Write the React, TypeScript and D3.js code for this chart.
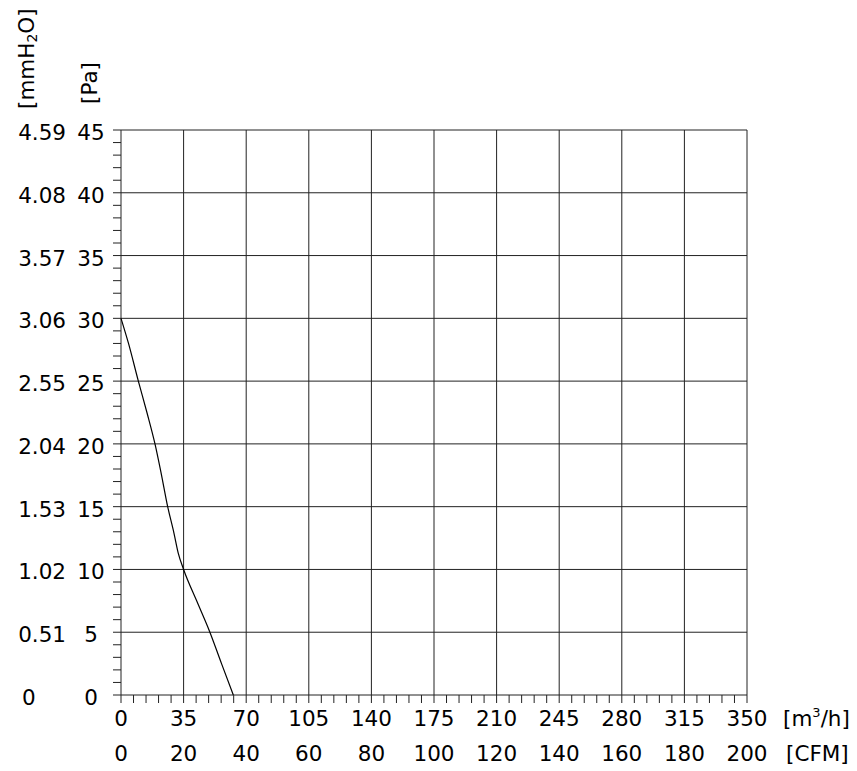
import React from "react";
import * as d3 from "d3";

const flowTicks = [0, 35, 70, 105, 140, 175, 210, 245, 280, 315, 350];
const cfmLabels = ["0", "20", "40", "60", "80", "100", "120", "140", "160", "180", "200"];
const paTicks = [0, 5, 10, 15, 20, 25, 30, 35, 40, 45];
const mmLabels = ["0", "0.51", "1.02", "1.53", "2.04", "2.55", "3.06", "3.57", "4.08", "4.59"];

const curveFlow = [0, 4.2, 9.7, 14.5, 19, 22.4, 26.1, 29.6, 32, 35, 42.3, 49.7, 56.2, 62.8];
const curvePa = [30, 28, 25, 22.5, 20, 17.7, 15, 12.9, 11.3, 10, 7.5, 5, 2.5, 0];

const W = 857;
const H = 771;
const L = 121, R = 747, T = 130, B = 695;
const FONT = "DejaVu Sans, Verdana, sans-serif";
const FS = 21.5;

export default function App() {
  const x = d3.scaleLinear().domain([0, 350]).range([L, R]);
  const y = d3.scaleLinear().domain([0, 45]).range([B, T]);
  const pts: [number, number][] = curveFlow.map((q, i) => [q, curvePa[i]]);
  const line = d3
    .line<[number, number]>()
    .x((d) => x(d[0]))
    .y((d) => y(d[1]))
    .curve(d3.curveMonotoneX);

  const minorX = d3.range(0, 351, 7);
  const minorY = d3.range(0, 46, 1);

  return (
    <svg
      width={W}
      height={H}
      style={{ position: "absolute", left: 0, top: 0, background: "#fff" }}
      fontFamily={FONT}
    >
      <rect x={0} y={0} width={W} height={H} fill="#fff" />
      {/* grid */}
      {flowTicks.map((v) => (
        <line key={"gx" + v} x1={x(v)} x2={x(v)} y1={T} y2={B} stroke="#222" strokeWidth={1} />
      ))}
      {paTicks.map((v) => (
        <line key={"gy" + v} x1={L} x2={R} y1={y(v)} y2={y(v)} stroke="#222" strokeWidth={1} />
      ))}
      {/* minor ticks */}
      {minorX.map((v) => (
        <line key={"tx" + v} x1={x(v)} x2={x(v)} y1={B} y2={B + 8} stroke="#222" strokeWidth={1} />
      ))}
      {minorY.map((v) => (
        <line key={"ty" + v} x1={L - 8} x2={L} y1={y(v)} y2={y(v)} stroke="#222" strokeWidth={1} />
      ))}
      {/* curve */}
      <path d={line(pts) || ""} fill="none" stroke="#000" strokeWidth={1.2} />
      {/* y labels */}
      {paTicks.map((v, i) => (
        <g key={"yl" + v}>
          <text
            x={i === 0 ? 22 : 66}
            y={y(v) + 10}
            fontSize={FS}
            textAnchor={i === 0 ? "start" : "end"}
            fill="#000"
          >
            {mmLabels[i]}
          </text>
          <text x={91} y={y(v) + 10} fontSize={FS} textAnchor="middle" fill="#000">
            {v}
          </text>
        </g>
      ))}
      {/* x labels */}
      {flowTicks.map((v, i) => (
        <g key={"xl" + v}>
          <text x={x(v)} y={726} fontSize={FS} textAnchor="middle" fill="#000">
            {v}
          </text>
          <text x={x(v)} y={760.5} fontSize={FS} textAnchor="middle" fill="#000">
            {cfmLabels[i]}
          </text>
        </g>
      ))}
      <text x={783} y={726} fontSize={FS} fill="#000">
        [m<tspan fontSize={13} dy="-9">3</tspan>
        <tspan dy="9">/h]</tspan>
      </text>
      <text x={786} y={760.5} fontSize={FS} fill="#000">
        [CFM]
      </text>
      {/* unit titles */}
      <text transform="translate(34,109) rotate(-90)" fontSize={FS} fill="#000">
        [mmH<tspan fontSize={14} dy="3">2</tspan>
        <tspan dy="-3">O]</tspan>
      </text>
      <text transform="translate(97,104) rotate(-90)" fontSize={FS} fill="#000">
        [Pa]
      </text>
    </svg>
  );
}
